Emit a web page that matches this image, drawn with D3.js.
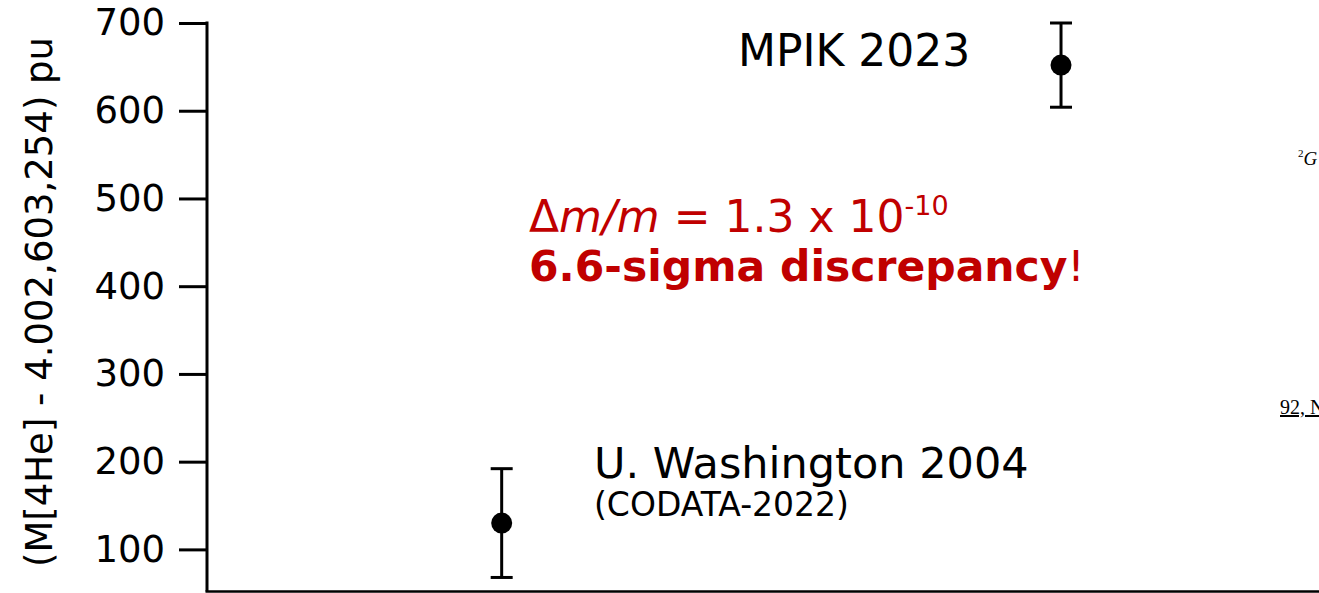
<!DOCTYPE html>
<html>
<head>
<meta charset="utf-8">
<script src="https://cdn.jsdelivr.net/npm/d3@7"></script>
<style>
    html, body { margin: 0; padding: 0; background: #fff; }
    svg { display: block; }
</style>
</head>
<body>
<div id="chart"></div>
<script>
// Measurements of the 4He atomic mass, offset from 4.002,603,254 u, in pu
const labels = ['U. Washington 2004', 'MPIK 2023'];
const xPos = [0.265, 0.768];          // horizontal placement along the (unlabelled) x axis
const values = [130, 652];
const errors = [62, 48];
const yTicks = [100, 200, 300, 400, 500, 600, 700];

const width = 1319;
const height = 593;
const margin = { top: 23, right: 0, bottom: 1.5, left: 207 };
const sans = '"DejaVu Sans", Verdana, sans-serif';
const serif = '"Liberation Serif", "DejaVu Serif", serif';

const svg = d3.select('#chart').append('svg')
    .attr('width', width)
    .attr('height', height)
    .attr('font-family', sans);

const x = d3.scaleLinear()
    .domain([0, 1])
    .range([margin.left, width - margin.right]);

const y = d3.scaleLinear()
    .domain([52, 700])
    .range([height - margin.bottom, margin.top]);

// Y axis
const yAxis = svg.append('g')
    .attr('transform', `translate(${margin.left},0)`)
    .call(d3.axisLeft(y).tickValues(yTicks).tickSize(28).tickPadding(14).tickSizeOuter(0));
yAxis.select('.domain').remove();
yAxis.selectAll('.tick line').attr('stroke', '#000').attr('stroke-width', 3);
yAxis.selectAll('.tick text')
    .attr('fill', '#000')
    .style('font-size', '37px')
    .style('font-family', sans);

// axis lines
svg.append('line')
    .attr('x1', margin.left).attr('x2', margin.left)
    .attr('y1', y(700) - 1.5).attr('y2', y.range()[0])
    .attr('stroke', '#000').attr('stroke-width', 3);
svg.append('line')
    .attr('x1', margin.left - 1.5).attr('x2', width)
    .attr('y1', y.range()[0]).attr('y2', y.range()[0])
    .attr('stroke', '#000').attr('stroke-width', 2.5);

// y label
svg.append('text')
    .attr('transform', 'translate(52,302) rotate(-90)')
    .attr('text-anchor', 'middle')
    .attr('font-size', '37px')
    .attr('fill', '#000')
    .text('(M[4He] - 4.002,603,254) pu');

// Error bars and points
const pts = values.map((v, i) => ({ label: labels[i], x: xPos[i], v: v, e: errors[i] }));
const g = svg.append('g');
const capW = 11;

g.selectAll('line.err')
    .data(pts).enter().append('line')
    .attr('class', 'err')
    .attr('x1', d => x(d.x)).attr('x2', d => x(d.x))
    .attr('y1', d => y(d.v + d.e)).attr('y2', d => y(d.v - d.e))
    .attr('stroke', '#000').attr('stroke-width', 3);

['top', 'bot'].forEach(k => {
    g.selectAll(`line.cap-${k}`)
        .data(pts).enter().append('line')
        .attr('x1', d => x(d.x) - capW).attr('x2', d => x(d.x) + capW)
        .attr('y1', d => y(k === 'top' ? d.v + d.e : d.v - d.e))
        .attr('y2', d => y(k === 'top' ? d.v + d.e : d.v - d.e))
        .attr('stroke', '#000').attr('stroke-width', 3);
});

g.selectAll('circle.pt')
    .data(pts).enter().append('circle')
    .attr('class', 'pt')
    .attr('cx', d => x(d.x)).attr('cy', d => y(d.v))
    .attr('r', 10.5)
    .attr('fill', '#000');

// Labels
svg.append('text')
    .attr('x', 738).attr('y', 66)
    .attr('font-size', '44px')
    .text(labels[1]);

svg.append('text')
    .attr('x', 594).attr('y', 478)
    .attr('font-size', '43px')
    .text(labels[0]);

svg.append('text')
    .attr('x', 594).attr('y', 516)
    .attr('font-size', '33px')
    .text('(CODATA-2022)');

// Red annotation
const red = '#c00000';
const t1 = svg.append('text')
    .attr('x', 529).attr('y', 232)
    .attr('font-size', '44px')
    .attr('fill', red);
t1.append('tspan').text('Δ');
t1.append('tspan').attr('font-style', 'italic').text('m/m');
t1.append('tspan').text(' = 1.3 x 10');
t1.append('tspan').attr('font-size', '27px').attr('dy', -17).text('-10');

const t2 = svg.append('text')
    .attr('x', 529).attr('y', 281)
    .attr('font-size', '42.5px')
    .attr('fill', red);
t2.append('tspan').attr('font-weight', 'bold').text('6.6-sigma discrepancy');
t2.append('tspan').text('!');

// Fragments of neighbouring slide text at the right edge
const side = svg.append('text')
    .attr('x', 1298).attr('y', 165)
    .attr('font-family', serif)
    .attr('font-size', '19px')
    .attr('fill', '#000');
side.append('tspan').attr('font-size', '11px').attr('dy', -8).text('2');
side.append('tspan').attr('font-style', 'italic').attr('dy', 8).text('G');

svg.append('text')
    .attr('x', 1280).attr('y', 414)
    .attr('font-family', serif)
    .attr('font-size', '20px')
    .attr('text-decoration', 'underline')
    .attr('fill', '#000')
    .text('92, N');
</script>
</body>
</html>
